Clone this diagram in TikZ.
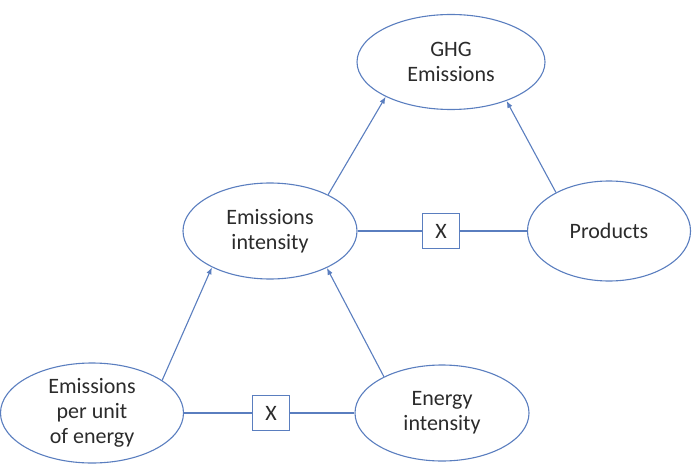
\documentclass[tikz,border=0pt]{standalone}
\usepackage{fontspec}
\setmainfont{Carlito}
\usepackage{xcolor}
\definecolor{kayablue}{HTML}{5A7EBF}
\definecolor{kayatext}{HTML}{2B2B2B}
\usepackage{tikz}
\usetikzlibrary{shapes.geometric,arrows.meta,positioning}

\tikzset{
  factor/.style={ellipse, draw=kayablue, line width=1.1pt, inner sep=0pt,
                 align=center, text=kayatext},
  xbox/.style={rectangle, draw=kayablue, line width=1.1pt,
               minimum width=37pt, minimum height=35pt, inner sep=0pt, text=kayatext},
  link/.style={kayablue, line width=1.1pt},
  feeds/.style={link, -{Latex[length=7pt,width=5.5pt]}}
}

\begin{document}
\begin{tikzpicture}[x=1pt, y=1pt,
    font=\fontsize{22}{25}\selectfont]
  \useasboundingbox (0,0) rectangle (692,464);

  \node[factor, minimum width=188pt, minimum height=95pt] (ghg) at (451,402)
    {GHG\\Emissions};
  \node[factor, minimum width=174pt, minimum height=96pt] (intens) at (270,233)
    {Emissions\\intensity};
  \node[factor, minimum width=163pt, minimum height=100pt] (prod) at (609,233)
    {Products};
  \node[factor, minimum width=183pt, minimum height=100pt] (perunit) at (92,51)
    {Emissions\\per unit\\of energy};
  \node[factor, minimum width=174pt, minimum height=96pt] (energy) at (442,51)
    {Energy\\intensity};

  \node[xbox] (x1) at (441,233) {X};
  \node[xbox] (x2) at (271,51) {X};

  % products of the two factors
  \draw[link] (intens.east) -- (x1.west);
  \draw[link] (x1.east) -- (prod.west);
  \draw[link] (perunit.east) -- (x2.west);
  \draw[link] (x2.east) -- (energy.west);

  % what feeds into what
  \draw[feeds] (intens.32) -- (ghg.208);
  \draw[feeds] (prod.144) -- (ghg.325);
  \draw[feeds] (perunit.25) -- (intens.212);
  \draw[feeds] (energy.148) -- (intens.327);
\end{tikzpicture}
\end{document}
